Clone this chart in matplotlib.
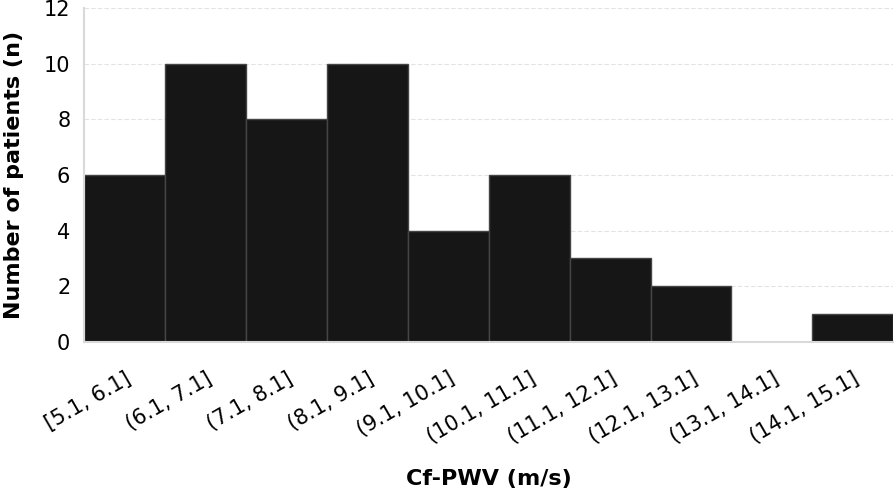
import numpy as np
import matplotlib.pyplot as plt

bins = ['[5.1, 6.1]', '(6.1, 7.1]', '(7.1, 8.1]', '(8.1, 9.1]', '(9.1, 10.1]',
        '(10.1, 11.1]', '(11.1, 12.1]', '(12.1, 13.1]', '(13.1, 14.1]', '(14.1, 15.1]']
counts = [6, 10, 8, 10, 4, 6, 3, 2, 0, 1]

fig = plt.figure(figsize=(8.96, 4.94), dpi=100)
ax = fig.add_axes([0.094, 0.308, 0.903, 0.676])

x = np.arange(len(bins))
ax.bar(x, counts, width=1.0, align='edge', color='#161616', edgecolor='#454545', linewidth=1.0, zorder=3)

ax.set_xlim(0, len(bins))
ax.set_ylim(0, 12)
ax.set_yticks(np.arange(0, 13, 2))
ax.yaxis.grid(True, linestyle=(0, (4, 2)), color='#e3e3e3', linewidth=0.8, zorder=0)

ax.set_xticks(x + 0.5)
ax.set_xticklabels(bins, rotation=30, ha='right', rotation_mode='anchor', fontsize=15)
ax.tick_params(axis='x', length=0, pad=19)
ax.tick_params(axis='y', length=0, pad=10, labelsize=15)

for s in ['top', 'right']:
    ax.spines[s].set_visible(False)
for s in ['left', 'bottom']:
    ax.spines[s].set_color('#d9d9d9')
    ax.spines[s].set_linewidth(1.5)
    ax.spines[s].set_zorder(4)

ax.set_xlabel('Cf-PWV (m/s)', fontsize=16, fontweight='bold', labelpad=16)
ax.set_ylabel('Number of patients (n)', fontsize=16, fontweight='bold', labelpad=14)

fig.savefig('out.png', dpi=100)
